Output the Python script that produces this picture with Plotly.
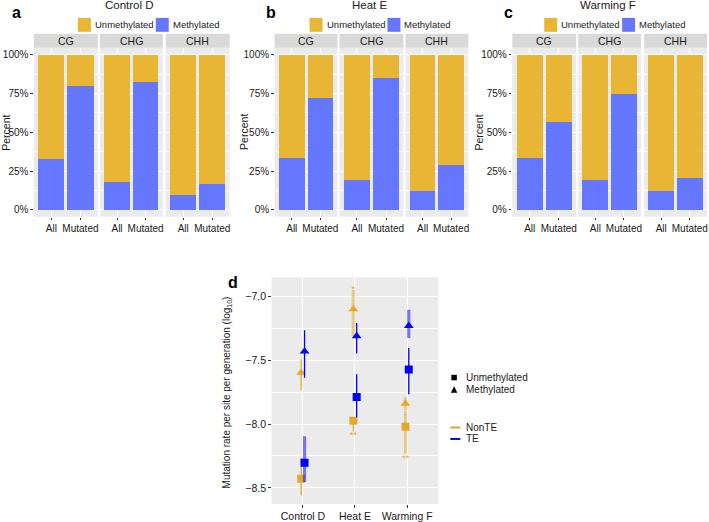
import plotly.graph_objects as go

W, H = 709, 522
FONT = "Liberation Sans, Arial, Helvetica, sans-serif"

# ---------------- data ----------------
treatments = ["Control D", "Heat E", "Warming F"]
panel_letters = ["a", "b", "c", "d"]
contexts = ["CG", "CHG", "CHH"]
site_sets = ["All", "Mutated"]
meth_states = ["Unmethylated", "Methylated"]
te_classes = ["NonTE", "TE"]

# fraction methylated, per context: [All, Mutated]
methylated_control = [[0.325, 0.795], [0.182, 0.825], [0.097, 0.165]]
methylated_heat = [[0.333, 0.723], [0.192, 0.850], [0.118, 0.287]]
methylated_warming = [[0.333, 0.565], [0.192, 0.745], [0.118, 0.207]]
percent_ticks = [0, 0.25, 0.5, 0.75, 1.0]
percent_labels = ["0%", "25%", "50%", "75%", "100%"]

# panel d: log10 mutation rate per site per generation
nonte_meth = [-7.597, -7.099, -7.839]
nonte_meth_lo = [-7.735, -7.310, -7.890]
nonte_meth_hi = [-7.494, -6.948, -7.790]
nonte_unmeth = [-8.428, -7.974, -8.020]
nonte_unmeth_lo = [-8.558, -8.057, -8.233]
nonte_unmeth_hi = [-8.265, -7.948, -7.896]
te_meth = [-7.430, -7.310, -7.229]
te_meth_lo = [-7.636, -7.447, -7.325]
te_meth_hi = [-7.265, -7.208, -7.104]
te_unmeth = [-8.303, -7.787, -7.571]
te_unmeth_lo = [-8.454, -7.948, -7.766]
te_unmeth_hi = [-8.096, -7.610, -7.403]
nonte_meth_sig = ["", "*", ""]
nonte_unmeth_sig = ["", "**", "**"]
# error-bar drawn faint/wide (True) or thin/solid (False)
nonte_meth_faint = [False, True, True]
nonte_unmeth_faint = [False, False, True]
te_meth_faint = [False, False, True]
te_unmeth_faint = [True, False, False]
rate_ticks = [-8.5, -8.0, -7.5, -7.0]
rate_minor = [-8.25, -7.75, -7.25]

# ---------------- style ----------------
BAR_YELLOW = "#E8B634"
BAR_BLUE = "#6677FF"
PT_YELLOW = "#E2A92E"
PT_BLUE = "#0000FF"
PANEL_BG = "#EBEBEB"
STRIP_BG = "#D9D9D9"
TXT = "#1A1A1A"
TICK_TXT = "#333333"


def fx(p):
    return p / W


def fy(p):
    return 1 - p / H


facet_px = [
    [(34, 98), (100, 163), (166, 230)],
    [(275, 338), (340, 404), (406, 469)],
    [(513, 577), (579, 642), (645, 708)],
]
bar_top, bar_bot = 48, 218
strip_top = 34

fig = go.Figure()
layout = dict(
    width=W, height=H, margin=dict(l=0, r=0, t=0, b=0),
    paper_bgcolor="white", plot_bgcolor=PANEL_BG,
    barmode="stack", bargap=0.1, showlegend=False,
    font=dict(family=FONT, color=TXT, size=10),
)
shapes, annotations = [], []

meth_data = [methylated_control, methylated_heat, methylated_warming]

for p in range(3):
    for c in range(3):
        k = p * 3 + c + 1
        xa, ya = f"x{k}", f"y{k}"
        meth = meth_data[p][c]
        fig.add_trace(go.Bar(x=site_sets, y=meth, marker=dict(color=BAR_BLUE, line=dict(width=0)),
                             xaxis=xa, yaxis=ya, name=meth_states[1]))
        fig.add_trace(go.Bar(x=site_sets, y=[1 - m for m in meth],
                             marker=dict(color=BAR_YELLOW, line=dict(width=0)),
                             xaxis=xa, yaxis=ya, name=meth_states[0]))
        x0, x1 = facet_px[p][c]
        layout[f"xaxis{k}"] = dict(
            domain=[fx(x0), fx(x1)], anchor=ya, type="category", range=[-0.6, 1.6],
            showgrid=True, gridcolor="white", gridwidth=1, zeroline=False,
            ticks="outside", ticklen=2.5, tickcolor=TICK_TXT, tickwidth=1,
            tickfont=dict(size=10, color=TXT), showline=False, fixedrange=True,
        )
        layout[f"yaxis{k}"] = dict(
            domain=[fy(bar_bot), fy(bar_top)], anchor=xa, range=[-0.045, 1.045],
            tickmode="array", tickvals=percent_ticks, ticktext=percent_labels,
            showticklabels=(c == 0), ticks="outside" if c == 0 else "",
            ticklen=2.5, tickcolor=TICK_TXT, tickfont=dict(size=10, color=TXT),
            showgrid=True, gridcolor="white", gridwidth=1, zeroline=False,
            minor=dict(tickvals=[0.125, 0.375, 0.625, 0.875], showgrid=True,
                       gridcolor="white", gridwidth=0.5, ticks=""),
            fixedrange=True,
        )
        shapes.append(dict(type="rect", xref="paper", yref="paper",
                           x0=fx(x0), x1=fx(x1), y0=fy(bar_top), y1=fy(strip_top),
                           fillcolor=STRIP_BG, line=dict(width=0), layer="below"))
        annotations.append(dict(text=contexts[c], xref="paper", yref="paper",
                                x=fx((x0 + x1) / 2), y=fy((bar_top + strip_top) / 2),
                                showarrow=False, font=dict(size=10.5, color=TXT),
                                xanchor="center", yanchor="middle"))

# panel titles, letters, legends, y-titles
title_cx = [129.5, 370, 609]
letter_px = [(17, 13), (271, 13), (509, 13)]
legend_px = [(78, 156), (310, 388), (545, 623)]
percent_x = [6.5, 245, 480]
for p in range(3):
    annotations.append(dict(text=treatments[p], xref="paper", yref="paper",
                            x=fx(title_cx[p]), y=fy(5), showarrow=False,
                            font=dict(size=11.5, color=TXT), xanchor="center", yanchor="middle"))
    annotations.append(dict(text=f"<b>{panel_letters[p]}</b>", xref="paper", yref="paper",
                            x=fx(letter_px[p][0]), y=fy(letter_px[p][1]), showarrow=False,
                            font=dict(size=16, color="black"), xanchor="center", yanchor="middle"))
    for j, (col, lab) in enumerate([(BAR_YELLOW, meth_states[0]), (BAR_BLUE, meth_states[1])]):
        lx = legend_px[p][j]
        shapes.append(dict(type="rect", xref="paper", yref="paper",
                           x0=fx(lx), x1=fx(lx + 13), y0=fy(32), y1=fy(18),
                           fillcolor=col, line=dict(width=0)))
        annotations.append(dict(text=lab, xref="paper", yref="paper", x=fx(lx + 15), y=fy(25),
                                showarrow=False, font=dict(size=9.5, color=TXT),
                                xanchor="left", yanchor="middle"))
    annotations.append(dict(text="Percent", xref="paper", yref="paper",
                            x=fx(percent_x[p]), y=fy((bar_top + bar_bot) / 2), textangle=-90,
                            showarrow=False, font=dict(size=10.5, color=TXT),
                            xanchor="center", yanchor="middle"))

# ---------------- panel d ----------------
dodge = 0.032
xs = list(range(len(treatments)))
series = [
    ("NonTE", "triangle-up", PT_YELLOW, -dodge, nonte_meth, nonte_meth_lo, nonte_meth_hi, nonte_meth_faint),
    ("NonTE", "square", PT_YELLOW, -dodge, nonte_unmeth, nonte_unmeth_lo, nonte_unmeth_hi, nonte_unmeth_faint),
    ("TE", "triangle-up", PT_BLUE, dodge, te_meth, te_meth_lo, te_meth_hi, te_meth_faint),
    ("TE", "square", PT_BLUE, dodge, te_unmeth, te_unmeth_lo, te_unmeth_hi, te_unmeth_faint),
]


def rgba(hexcol, a):
    h = hexcol.lstrip("#")
    return f"rgba({int(h[0:2], 16)},{int(h[2:4], 16)},{int(h[4:6], 16)},{a})"


for name, sym, col, off, vals, lo, hi, faint in series:
    for want_faint in (True, False):
        ex, ey = [], []
        for i in xs:
            if faint[i] == want_faint:
                ex += [i + off, i + off, None]
                ey += [lo[i], hi[i], None]
        if ex:
            fig.add_trace(go.Scatter(
                x=ex, y=ey, mode="lines", xaxis="x10", yaxis="y10",
                line=dict(color=rgba(col, 0.5) if want_faint else col,
                          width=3.2 if want_faint else 1.3),
                hoverinfo="skip"))
    fig.add_trace(go.Scatter(
        x=[i + off for i in xs], y=vals, mode="markers", xaxis="x10", yaxis="y10", name=name,
        marker=dict(symbol=sym, color=col, size=8 if sym == "square" else 8.5, line=dict(width=0))))

# significance marks (only where a mark exists)
for sig, ends, pos in [(nonte_meth_sig, nonte_meth_hi, "middle center"),
                       (nonte_unmeth_sig, nonte_unmeth_lo, "bottom center")]:
    idx = [i for i in xs if sig[i]]
    fig.add_trace(go.Scatter(
        x=[i - dodge for i in idx], y=[ends[i] for i in idx], mode="text",
        text=[sig[i] for i in idx], textposition=pos,
        textfont=dict(size=9, color=PT_YELLOW),
        xaxis="x10", yaxis="y10", hoverinfo="skip"))

layout["xaxis10"] = dict(
    domain=[fx(272), fx(439)], anchor="y10", range=[-0.6, 2.6],
    tickmode="array", tickvals=xs, ticktext=treatments,
    showgrid=True, gridcolor="white", gridwidth=1, zeroline=False,
    ticks="outside", ticklen=2.5, tickcolor=TICK_TXT,
    tickfont=dict(size=10.5, color=TXT), fixedrange=True,
)
layout["yaxis10"] = dict(
    domain=[fy(507), fy(279)], anchor="x10", range=[-8.627, -6.85],
    tickmode="array", tickvals=rate_ticks, tickformat=".1f",
    showgrid=True, gridcolor="white", gridwidth=1, zeroline=False,
    ticks="outside", ticklen=2.5, tickcolor=TICK_TXT,
    tickfont=dict(size=10.5, color=TXT),
    minor=dict(tickvals=rate_minor, showgrid=True, gridcolor="white", gridwidth=0.5, ticks=""),
    fixedrange=True,
)
annotations.append(dict(text="<b>d</b>", xref="paper", yref="paper", x=fx(233), y=fy(284),
                        showarrow=False, font=dict(size=16, color="black"),
                        xanchor="center", yanchor="middle"))
annotations.append(dict(text="Mutation rate per site per generation (log<sub>10</sub>)",
                        xref="paper", yref="paper", x=fx(227), y=fy(395), textangle=-90,
                        showarrow=False, font=dict(size=10, color=TXT),
                        xanchor="center", yanchor="middle"))

# legend for panel d
shapes.append(dict(type="rect", xref="paper", yref="paper",
                   x0=fx(452), x1=fx(457.5), y0=fy(382.5), y1=fy(377), fillcolor="black",
                   line=dict(width=0)))
shapes.append(dict(type="path", xref="paper", yref="paper",
                   path=f"M {fx(451.5)} {fy(395)} L {fx(458)} {fy(395)} L {fx(454.75)} {fy(388.5)} Z",
                   fillcolor="black", line=dict(width=0)))
for lab, yy in [(meth_states[0], 380), (meth_states[1], 392)]:
    annotations.append(dict(text=lab, xref="paper", yref="paper", x=fx(465), y=fy(yy),
                            showarrow=False, font=dict(size=10, color=TXT),
                            xanchor="left", yanchor="middle"))
for lab, col, yy in [(te_classes[0], PT_YELLOW, 430), (te_classes[1], PT_BLUE, 441.5)]:
    shapes.append(dict(type="line", xref="paper", yref="paper", x0=fx(451), x1=fx(461),
                       y0=fy(yy), y1=fy(yy), line=dict(color=col, width=2)))
    annotations.append(dict(text=lab, xref="paper", yref="paper", x=fx(465), y=fy(yy),
                            showarrow=False, font=dict(size=10, color=TXT),
                            xanchor="left", yanchor="middle"))

layout["shapes"] = shapes
layout["annotations"] = annotations
fig.update_layout(**layout)
fig.write_html("out.html", config={"displayModeBar": False},
               post_script="document.body.style.margin='0px';")
